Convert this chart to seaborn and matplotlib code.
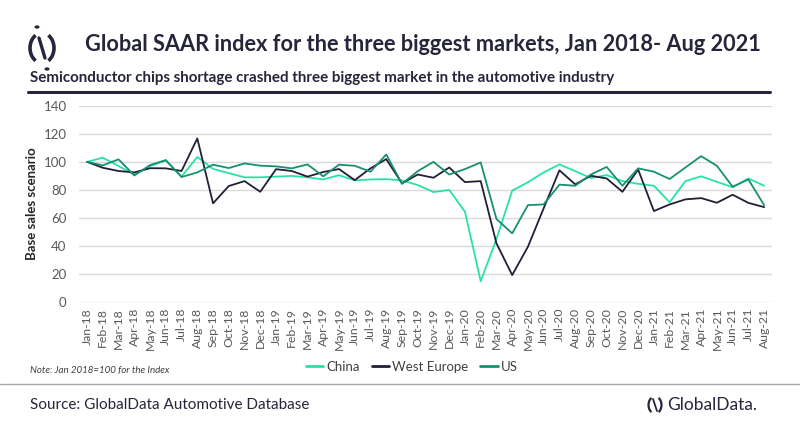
import matplotlib
matplotlib.use("Agg")
import matplotlib.pyplot as plt
import seaborn as sns
import pandas as pd
import numpy as np
from matplotlib.patches import Arc, Circle
from matplotlib.lines import Line2D

months = ["Jan-18","Feb-18","Mar-18","Apr-18","May-18","Jun-18","Jul-18","Aug-18","Sep-18","Oct-18","Nov-18","Dec-18",
          "Jan-19","Feb-19","Mar-19","Apr-19","May-19","Jun-19","Jul-19","Aug-19","Sep-19","Oct-19","Nov-19","Dec-19",
          "Jan-20","Feb-20","Mar-20","Apr-20","May-20","Jun-20","Jul-20","Aug-20","Sep-20","Oct-20","Nov-20","Dec-20",
          "Jan-21","Feb-21","Mar-21","Apr-21","May-21","Jun-21","Jul-21","Aug-21"]

china = [100, 103, 97, 91, 97, 101, 89.5, 103.5, 95, 92, 89, 89,
         89.5, 90, 89, 87.5, 90.5, 86.8, 87.5, 87.7, 86.8, 83.5, 78.5, 80,
         64.5, 15, 45, 79.5, 85.5, 92.5, 98.2, 93.4, 88.5, 90.6, 86.3, 84.4,
         83, 71.2, 86.3, 89.7, 85.8, 81.9, 88.2, 83]

west_europe = [100, 95.8, 93.5, 92.5, 95.5, 95.4, 93.5, 116.7, 70.5, 82.8, 86.3, 78.7,
               94.8, 93.5, 89.5, 92.8, 94.9, 87, 95.4, 102, 84.7, 91, 88.7, 96,
               85.6, 86.3, 42, 19.4, 39.6, 67, 94, 84, 90.1, 88.2, 78.7, 94.5,
               65, 69.7, 73.3, 74.2, 70.9, 76.6, 70.8, 67.8]

us = [100, 97.5, 101.8, 90.3, 97.7, 101.3, 89.2, 92.5, 98, 95.6, 98.9, 97.3,
      96.8, 95.4, 98.2, 89.7, 98, 97.2, 93, 105.3, 84.4, 93.4, 100, 91,
      94.9, 99.6, 59.3, 49.1, 69.2, 69.7, 83.8, 83, 91, 96.4, 83, 95.4,
      93, 87.8, 96, 104.1, 97.2, 82.3, 87.5, 69.2]

series_names = ["China", "West Europe", "US"]
colors = {"China": "#27E2A8", "West Europe": "#202036", "US": "#17906F"}

df = pd.DataFrame({
    "idx": list(range(len(months))) * 3,
    "value": china + west_europe + us,
    "Region": ["China"] * len(months) + ["West Europe"] * len(months) + ["US"] * len(months),
})

sns.set_theme(style="white")
plt.rcParams["font.family"] = ["Lato", "DejaVu Sans"]

fig = plt.figure(figsize=(8, 4.28), dpi=100)
ax = fig.add_axes([0.099, 0.2937, 0.866, 0.4593])

sns.lineplot(data=df, x="idx", y="value", hue="Region", palette=colors,
             hue_order=series_names, ax=ax, linewidth=1.3, legend=False)

ax.set_xlim(-0.5, len(months) - 0.5)
ax.set_ylim(0, 140)
ax.set_yticks(range(0, 141, 20))
ax.yaxis.grid(True, color="#d9d9d9", linewidth=1.0)
ax.xaxis.grid(False)
for s in ax.spines.values():
    s.set_visible(False)
ax.set_xticks(range(len(months)))
ax.set_xticklabels(months, rotation=90, fontsize=8.8, color="#595959")
ax.tick_params(axis="x", length=0, pad=4)
ax.tick_params(axis="y", length=0, pad=9, labelsize=9.5, labelcolor="#595959")
ax.set_xlabel("")
ax.set_ylabel("Base sales scenario", fontsize=9.5, fontweight="bold", color="#262626")
ax.yaxis.set_label_coords(-0.06, 0.5)

handles = [Line2D([0], [0], color=colors[n], lw=2) for n in series_names]
fig.legend(handles, series_names, loc="center", bbox_to_anchor=(0.515, 0.143), ncol=3,
           frameon=False, fontsize=9.5, handlelength=1.3, handletextpad=0.25,
           columnspacing=0.9, labelcolor="#404040")

# Title and subtitle
fig.text(0.106, 0.895, "Global SAAR index for the three biggest markets, Jan 2018- Aug 2021",
         fontsize=15.7, fontweight="bold", color="#26263a", va="center", ha="left")
fig.text(0.037, 0.818, "Semiconductor chips shortage crashed three biggest market in the automotive industry",
         fontsize=10.9, fontweight="bold", color="#26263a", va="center", ha="left")
fig.add_artist(Line2D([0.035, 0.963], [0.785, 0.785], color="#26263a", lw=2.2))

# top-left logo
W, H = 800, 428
def fx(px): return px / W
def fy(py): return 1 - py / H
ic = "#26263a"
fig.add_artist(Arc((fx(42), fy(48)), 24 / W, 30 / H, theta1=105, theta2=255,
                   color=ic, lw=2.6, transform=fig.transFigure))
fig.add_artist(Arc((fx(42), fy(48)), 24 / W, 30 / H, theta1=-75, theta2=75,
                   color=ic, lw=2.6, transform=fig.transFigure))
fig.add_artist(Line2D([fx(39), fx(45)], [fy(38), fy(58)], color=ic, lw=2.4))
fig.add_artist(Circle((fx(37), fy(27)), 1.8 / W, color=ic, transform=fig.transFigure))
fig.add_artist(Circle((fx(47), fy(69)), 1.8 / W, color=ic, transform=fig.transFigure))

# footer
fig.text(0.037, 0.135, "Note: Jan 2018=100 for the Index", fontsize=7, style="italic",
         color="#404040", va="center", ha="left")
fig.add_artist(Line2D([0, 1], [fy(384), fy(384)], color="#a6a6a6", lw=1.0))
fig.text(0.037, fy(405), "Source: GlobalData Automotive Database", fontsize=11,
         color="#26263a", va="center", ha="left")
fig.text(fx(667), fy(405), "GlobalData.", fontsize=12.5, color="#26263a",
         va="center", ha="left")
fig.add_artist(Arc((fx(655), fy(405)), 13 / W, 17 / H, theta1=105, theta2=255,
                   color=ic, lw=1.6, transform=fig.transFigure))
fig.add_artist(Arc((fx(655), fy(405)), 13 / W, 17 / H, theta1=-75, theta2=75,
                   color=ic, lw=1.6, transform=fig.transFigure))
fig.add_artist(Line2D([fx(653), fx(657)], [fy(399), fy(411)], color=ic, lw=1.3))

fig.savefig("out.png", dpi=100, facecolor="white")
